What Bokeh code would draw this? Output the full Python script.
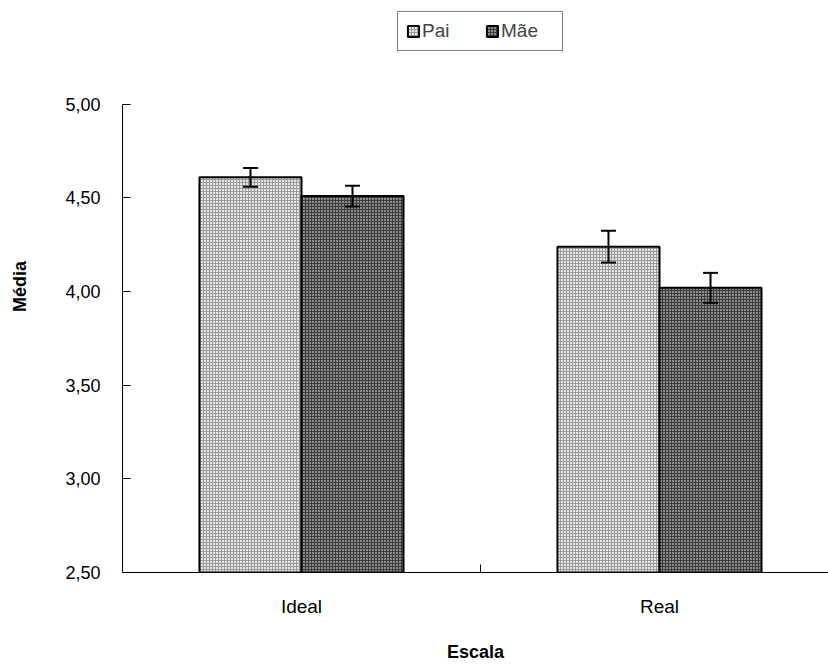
from bokeh.plotting import figure
from bokeh.models import (ColumnDataSource, Whisker, TeeHead, FixedTicker, Legend, LegendItem, Range1d)
from bokeh.embed import file_html
from bokeh.resources import INLINE

categories = ["Ideal", "Real"]
series = ["Pai", "Mãe"]
pai_means = [4.61, 4.24]
mae_means = [4.51, 4.02]
pai_err = [0.05, 0.085]
mae_err = [0.055, 0.08]
y_ticks = [2.5, 3.0, 3.5, 4.0, 4.5, 5.0]
y_tick_labels = ["2,50", "3,00", "3,50", "4,00", "4,50", "5,00"]

FONT = "Liberation Sans"
bar_w = 0.285

centers = [i + 0.5 for i in range(len(categories))]
pai_x = [c - bar_w / 2 for c in centers]
mae_x = [c + bar_w / 2 for c in centers]

src_pai = ColumnDataSource(dict(x=pai_x, top=pai_means,
                                lower=[m - e for m, e in zip(pai_means, pai_err)],
                                upper=[m + e for m, e in zip(pai_means, pai_err)]))
src_mae = ColumnDataSource(dict(x=mae_x, top=mae_means,
                                lower=[m - e for m, e in zip(mae_means, mae_err)],
                                upper=[m + e for m, e in zip(mae_means, mae_err)]))

# frame spans whole top; y axis line limited to [2.5, 5.0] via bounds
y_top = 5.0 + 104 * 2.5 / 469
p = figure(width=828, height=664, output_backend="svg", toolbar_location=None,
           x_range=Range1d(0, 706 / 358), y_range=Range1d(2.5, y_top),
           min_border_left=122, min_border_right=0, min_border_top=0, min_border_bottom=91)
p.outline_line_color = None
p.xgrid.visible = False
p.ygrid.visible = False
p.background_fill_color = "white"
p.border_fill_color = "white"

r_pai = p.vbar(x="x", top="top", bottom=2.5, width=bar_w, source=src_pai,
               fill_color="#e6e6e6", line_color="black", line_width=2,
               hatch_pattern="cross", hatch_color="#9a9a9a", hatch_scale=3, hatch_weight=1)
r_mae = p.vbar(x="x", top="top", bottom=2.5, width=bar_w, source=src_mae,
               fill_color="#8c8c8c", line_color="black", line_width=2,
               hatch_pattern="cross", hatch_color="#3c3c3c", hatch_scale=3, hatch_weight=1)

for src in (src_pai, src_mae):
    w = Whisker(base="x", lower="lower", upper="upper", source=src, level="overlay",
                line_color="black", line_width=2,
                upper_head=TeeHead(size=15, line_width=2, line_color="black"),
                lower_head=TeeHead(size=15, line_width=2, line_color="black"))
    p.add_layout(w)

# x axis
p.xaxis.ticker = FixedTicker(ticks=centers, minor_ticks=[1.0])
p.xaxis.major_label_overrides = {c: cat for c, cat in zip(centers, categories)}
p.xaxis.major_tick_in = 0
p.xaxis.major_tick_out = 0
p.xaxis.minor_tick_in = 8
p.xaxis.minor_tick_out = 0
p.xaxis.minor_tick_line_color = "black"
p.xaxis.axis_line_color = "black"
p.xaxis.major_label_text_font = FONT
p.xaxis.major_label_text_font_size = "19px"
p.xaxis.major_label_text_color = "black"
p.xaxis.major_label_standoff = 23
p.xaxis.axis_label = "Escala"
p.xaxis.axis_label_text_font = FONT
p.xaxis.axis_label_text_font_size = "18px"
p.xaxis.axis_label_text_font_style = "bold"
p.xaxis.axis_label_text_color = "black"
p.xaxis.axis_label_standoff = 22

# y axis
p.yaxis.ticker = FixedTicker(ticks=y_ticks, minor_ticks=[])
p.yaxis.bounds = (y_ticks[0], y_ticks[-1])
p.yaxis.major_label_overrides = {t: l for t, l in zip(y_ticks, y_tick_labels)}
p.yaxis.major_tick_in = 8
p.yaxis.major_tick_out = 0
p.yaxis.major_tick_line_color = "black"
p.yaxis.axis_line_color = "black"
p.yaxis.major_label_text_font = FONT
p.yaxis.major_label_text_font_size = "18px"
p.yaxis.major_label_text_color = "black"
p.yaxis.major_label_standoff = 22
p.yaxis.axis_label = "Média"
p.yaxis.axis_label_text_font = FONT
p.yaxis.axis_label_text_font_size = "18px"
p.yaxis.axis_label_text_font_style = "bold"
p.yaxis.axis_label_text_color = "black"
p.yaxis.axis_label_standoff = 32

legend = Legend(items=[LegendItem(label=series[0], renderers=[r_pai]),
                       LegendItem(label=series[1], renderers=[r_mae])],
                orientation="horizontal", location=(275, 521),
                border_line_color="black", border_line_width=1,
                label_text_font=FONT, label_text_font_size="19px",
                label_width=53, glyph_width=14, glyph_height=14, spacing=10, padding=8,
                label_standoff=2, background_fill_alpha=1.0, margin=0)
p.add_layout(legend, "center")

open("out.html", "w").write(file_html(p, INLINE))
